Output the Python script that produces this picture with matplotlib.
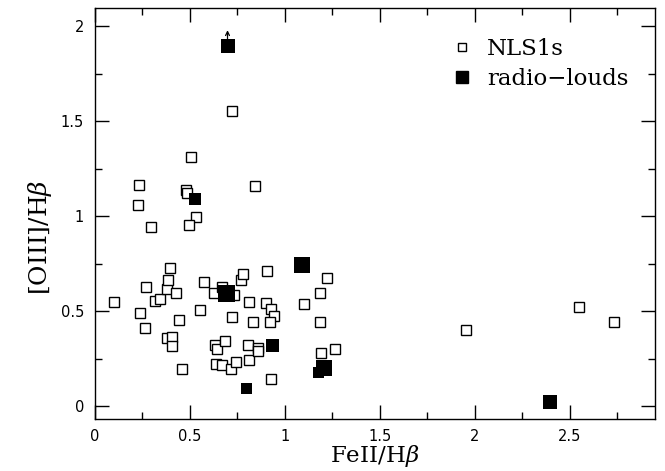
import matplotlib
matplotlib.use("Agg")
import matplotlib.pyplot as plt
from matplotlib.lines import Line2D
from matplotlib.ticker import MultipleLocator

plt.rcParams['mathtext.fontset'] = 'dejavuserif'

# NLS1s (open squares)
nls1_fe = [0.10, 0.236, 0.264, 0.266, 0.317, 0.343, 0.38, 0.387, 0.397, 0.425,
           0.44, 0.38, 0.403, 0.406, 0.459, 0.553, 0.574, 0.627, 0.669, 0.73,
           0.77, 0.777, 0.907, 0.81, 0.902, 0.926, 0.945, 0.924, 0.831, 0.723,
           0.63, 0.641, 0.684, 0.639, 0.671, 0.718, 0.744, 0.812, 0.805, 0.858,
           0.86, 0.926, 1.103, 1.222, 1.187, 1.183, 1.266, 1.189, 0.503, 0.233,
           0.228, 0.48, 0.485, 0.844, 0.534, 0.495, 0.294, 0.721, 1.955, 2.549,
           2.735]
nls1_o3 = [0.55, 0.49, 0.41, 0.63, 0.553, 0.567, 0.615, 0.667, 0.729, 0.594,
           0.453, 0.357, 0.364, 0.316, 0.197, 0.506, 0.653, 0.597, 0.627, 0.587,
           0.667, 0.694, 0.711, 0.548, 0.543, 0.51, 0.474, 0.443, 0.444, 0.469,
           0.32, 0.304, 0.344, 0.22, 0.215, 0.194, 0.234, 0.244, 0.32, 0.308,
           0.29, 0.146, 0.536, 0.673, 0.597, 0.446, 0.299, 0.278, 1.311, 1.164,
           1.062, 1.137, 1.122, 1.159, 0.995, 0.957, 0.944, 1.555, 0.402, 0.522,
           0.443]

# radio-loud objects (filled squares) and their symbol sizes (pixels)
rl_fe = [0.698, 0.529, 1.09, 0.695, 0.937, 1.208, 1.176, 0.797, 2.395]
rl_o3 = [1.895, 1.092, 0.743, 0.592, 0.322, 0.202, 0.176, 0.095, 0.023]
rl_size_px = [14, 12, 16, 17, 13, 16, 11, 11, 14]

fig = plt.figure(figsize=(6.65, 4.71), dpi=100)
ax = fig.add_axes([0.1429, 0.110, 0.842, 0.873])

ax.plot(nls1_fe, nls1_o3, ls='none', marker='s', markersize=7.0,
        markerfacecolor='white', markeredgecolor='black', markeredgewidth=1.0)
ax.scatter(rl_fe, rl_o3, marker='s', s=[(p * 0.72) ** 2 for p in rl_size_px],
           color='black', zorder=3, linewidths=0)

# lower-limit arrow on the top point
ax.annotate('', xy=(rl_fe[0], rl_o3[0] + 0.085), xytext=(rl_fe[0], rl_o3[0] + 0.035),
            arrowprops=dict(arrowstyle='->', lw=0.9, color='black',
                            shrinkA=0, shrinkB=0, mutation_scale=7))

ax.set_xlim(0, 2.95)
ax.set_ylim(-0.068, 2.097)
ax.xaxis.set_major_locator(MultipleLocator(0.5))
ax.xaxis.set_minor_locator(MultipleLocator(0.25))
ax.yaxis.set_major_locator(MultipleLocator(0.5))
ax.yaxis.set_minor_locator(MultipleLocator(0.25))
ax.tick_params(which='both', direction='in', top=True, right=True, width=1.0,
               labelsize=10.5)
ax.tick_params(axis='y', pad=8)
ax.tick_params(axis='x', pad=7)
ax.tick_params(which='major', length=10)
ax.tick_params(which='minor', length=5)

def fmt(v):
    return '0' if v == 0 else ('%g' % v)
ax.xaxis.set_major_formatter(plt.FuncFormatter(lambda v, p: fmt(round(v, 2))))
ax.yaxis.set_major_formatter(plt.FuncFormatter(lambda v, p: fmt(round(v, 2))))
for s in ax.spines.values():
    s.set_linewidth(1.0)

ax.set_xlabel(r'FeII/H$\beta$', fontsize=16.5, family='DejaVu Serif')
ax.set_ylabel(r'[OIII]/H$\beta$', fontsize=18, family='DejaVu Serif')
ax.xaxis.set_label_coords(0.5, -0.057)
ax.yaxis.set_label_coords(-0.098, 0.443)
ax.yaxis.label.set_va('center')

handles = [Line2D([], [], ls='none', marker='s', markersize=6, markerfacecolor='white',
                  markeredgecolor='black', markeredgewidth=1.0, label='NLS1s'),
           Line2D([], [], ls='none', marker='s', markersize=8, color='black',
                  label='radio−louds')]
ax.legend(handles=handles, loc='upper right', bbox_to_anchor=(0.99, 0.978),
          frameon=False, prop={'family': 'DejaVu Serif', 'size': 16.5},
          handletextpad=0.6, labelspacing=0.35, handlelength=1.0)

fig.savefig('out.png', dpi=100)
